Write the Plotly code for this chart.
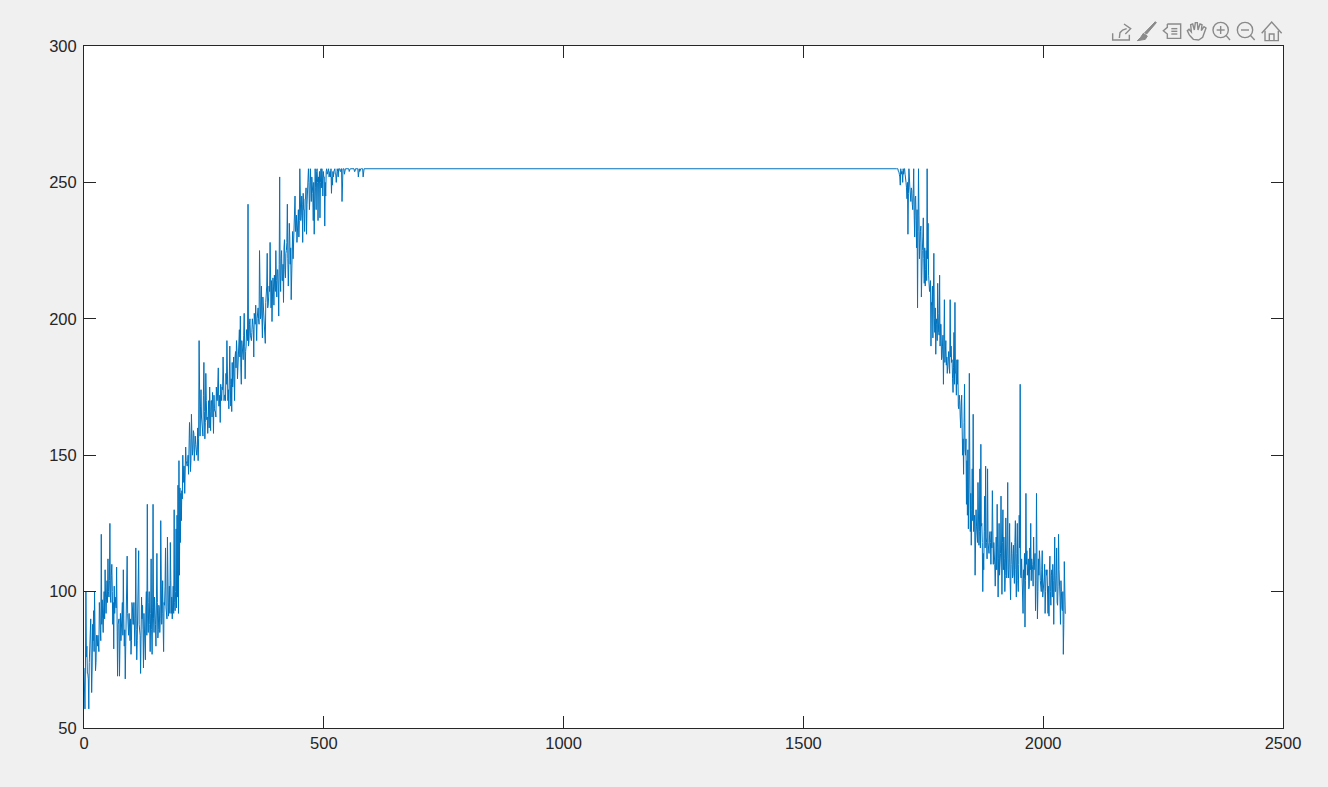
import plotly.graph_objects as go

SAMPLE_STEP = 2
rise_values = [
72,57,100,80,70,57,78,90,63,88,93,100,71,84,80,82,96,86,121,97,85,100,108,92,104,112,98,125,96,110,
88,79,92,95,109,69,90,69,92,88,96,108,80,68,90,113,84,92,82,77,96,88,96,80,116,75,95,115,86,70,
98,95,72,86,75,100,132,85,100,78,112,77,132,85,95,80,114,83,95,85,126,88,104,78,95,116,92,120,91,102,
118,92,90,102,130,93,123,128,139,148,138,136,137,150,146,136,153,146,147,143,162,144,165,150,159,148,157,150,152,148,
192,157,174,160,157,184,156,180,163,158,170,175,159,170,173,158,167,166,175,170,182,168,162,172,175,186,170,172,180,192,
170,167,190,168,166,175,186,170,188,192,178,188,196,201,176,188,185,202,178,190,196,242,192,200,192,195,198,186,198,205,
192,203,200,225,200,212,193,204,200,191,210,224,205,212,228,204,199,215,205,212,225,208,218,201,252,210,225,214,206,229,
215,225,242,212,235,220,207,230,222,228,245,235,228,240,230,255,236,245,228,240,232,244,231,248,255,240,255,243,250,236,
231,255,240,255,236,250,237,255,255,245,252,234,245,255,254,255,253,252,246,249,252,255,253,250,255,252,255,254,255,243,
255,255,255,255,255,255,255,255,255,255,255,255,254,255,255,255,252,255,255,255,255,252,
]
rise_core_values = [
66,72,76,70,68,74,80,76,72,82,78,84,74,80,84,78,86,82,88,90,
94,90,98,102,96,100,104,98,106,100,96,102,98,94,92,88,90,86,82,88,
84,90,86,80,88,92,84,86,90,82,94,88,84,90,86,82,92,88,84,96,
90,86,92,88,94,84,90,96,88,92,86,94,90,98,88,92,96,86,94,90,
98,92,88,96,102,94,90,100,96,92,104,98,94,92,96,100,94,98,92,106,
118,126,134,140,146,142,148,146,150,152,156,148,154,152,158,152,154,150,160,156,
162,168,164,158,172,166,162,170,164,168,160,166,170,164,168,172,166,164,170,174,
168,172,176,170,174,178,172,170,176,180,174,182,176,178,184,178,180,186,182,188,
184,190,186,182,192,186,194,190,188,196,192,190,198,194,192,200,196,202,198,194,
200,204,198,206,202,200,208,204,198,206,212,204,208,210,206,214,208,212,216,210,
214,218,212,220,216,222,214,220,226,218,224,228,222,220,230,226,224,232,228,236,
232,238,234,240,236,244,238,242,246,240,244,248,242,246,250,244,248,252,246,250,
252,248,254,250,252,254,250,248,252,254,252,250,254,253,255,252,254,255,252,254,
254,255,253,255,254,255,255,254,255,255,255,253,255,255,255,255,254,255,255,255,
255,255,254,255,255,255,255,254,255,255,255,255,
]
plateau_x = [584, 1694]
plateau_values = [255, 255]
FALL_START = 1696
fall_values = [
255,254,253,249,253,254,255,255,253,250,244,231,255,248,243,247,240,255,230,245,226,204,255,222,232,208,225,237,213,212,
225,255,235,211,212,190,205,193,224,195,187,200,213,195,216,198,185,190,176,207,190,183,180,186,182,207,190,185,173,195,
206,180,185,185,167,170,160,172,150,143,176,150,132,128,123,180,122,117,145,165,125,106,130,120,140,117,145,154,125,100,
108,135,146,118,145,115,120,118,122,137,110,115,102,120,132,98,125,112,135,99,130,120,100,127,105,140,105,125,97,118,
105,117,103,126,98,125,100,128,176,105,107,92,105,87,136,115,110,101,116,125,112,108,120,110,93,136,90,112,115,104,
100,115,100,105,92,108,108,92,91,113,95,108,110,88,120,100,116,95,121,105,88,100,93,77,111,92,
]
fall_core_values = [
255,254,252,255,254,250,253,255,252,248,250,246,252,244,248,242,246,238,244,236,
240,232,238,228,234,224,230,222,226,218,214,222,216,210,214,206,212,208,200,204,
198,192,202,194,190,198,186,194,188,184,192,186,182,188,180,186,184,178,182,176,
180,172,176,168,172,164,168,160,156,162,152,156,148,152,142,146,136,130,126,122,
128,120,124,118,126,122,116,124,118,114,122,116,120,112,118,114,122,110,116,112,
118,110,114,108,116,112,106,114,110,118,108,112,106,114,116,108,112,104,110,114,
106,112,118,108,114,104,110,116,106,112,100,108,114,104,110,106,112,102,108,104,
110,102,108,114,104,110,100,106,112,102,108,98,104,110,100,106,96,102,108,100,
106,98,104,110,100,106,96,102,108,98,104,94,100,88,96,92,
]
x_ticks = [0, 500, 1000, 1500, 2000, 2500]
y_ticks = [50, 100, 150, 200, 250, 300]

x_values, y_values = [], []
for i, (a, b) in enumerate(zip(rise_values, rise_core_values)):
    x_values += [SAMPLE_STEP * i, SAMPLE_STEP * i + 1]
    y_values += [a, b]
x_values += plateau_x
y_values += plateau_values
for i, (a, b) in enumerate(zip(fall_values, fall_core_values)):
    x_values += [FALL_START + SAMPLE_STEP * i, FALL_START + SAMPLE_STEP * i + 1]
    y_values += [a, b]

W, H = 1328, 787
L, R, T, B = 84, 1283, 46, 728
INK = "#262626"
ICON = "#8a8a8a"

fig = go.Figure(go.Scatter(x=x_values, y=y_values, mode="lines",
                           line=dict(color="#0072BD", width=1), hoverinfo="skip"))

axis = dict(showline=True, linecolor=INK, linewidth=1, mirror="ticks", ticks="inside",
            ticklen=12, tickwidth=1, tickcolor=INK, showgrid=False, zeroline=False,
            tickfont=dict(family="Liberation Sans, Arial, sans-serif", size=16.5, color=INK))
fig.update_xaxes(range=[0, 2500], tickvals=x_ticks, ticktext=[str(v) for v in x_ticks], **axis)
fig.update_yaxes(range=[50, 300], tickvals=y_ticks, ticktext=[str(v) for v in y_ticks],
                 ticklabelstandoff=3, **axis)


def px(zx, zy):
    sx = 1090 + zx / 3
    sy = 10 + zy / 3
    return (sx - L) / (R - L), (B - sy) / (B - T)


def path(points, close=False):
    parts = []
    for k, (a, b) in enumerate(points):
        u, v = px(a, b)
        parts.append(("M" if k == 0 else "L") + f"{u:.5f},{v:.5f}")
    return " ".join(parts) + (" Z" if close else "")


line_icons = [
    [(68, 70), (68, 90), (118, 90), (118, 74)],
    [(88, 84), (90, 68), (98, 60), (110, 56)],
    [(102, 42), (122, 56), (106, 72)],
    [(232, 42), (272, 42), (272, 85), (232, 85), (232, 72), (220, 62), (232, 52), (232, 42)],
    [(244, 56), (262, 56)], [(244, 64), (262, 64)], [(244, 72), (262, 72)],
    [(298, 75), (292, 62), (297, 58), (304, 66), (302, 44), (308, 42), (313, 60), (316, 38),
     (322, 38), (324, 60), (330, 42), (336, 44), (334, 62), (342, 50), (348, 54), (338, 82),
     (326, 90), (310, 88), (298, 75)],
    [(392, 48), (392, 72)], [(380, 60), (404, 60)], [(408, 76), (420, 90)],
    [(453, 60), (477, 60)], [(481, 76), (494, 90)],
    [(515, 70), (545, 36), (575, 70)], [(525, 62), (525, 92), (565, 92), (565, 62)],
    [(538, 92), (538, 72), (552, 72), (552, 92)],
]
shapes = [dict(type="path", xref="paper", yref="paper", path=path(p),
               line=dict(color=ICON, width=1.4)) for p in line_icons]
shapes.append(dict(type="path", xref="paper", yref="paper",
                   path=path([(196, 35), (199, 38), (170, 72), (164, 68)], True),
                   fillcolor=ICON, line=dict(color=ICON, width=1)))
shapes.append(dict(type="path", xref="paper", yref="paper",
                   path=path([(160, 70), (172, 78), (166, 88), (142, 92), (152, 82)], True),
                   fillcolor=ICON, line=dict(color=ICON, width=1)))
for cx in (392, 465):
    x0, y0 = px(cx - 23, 83)
    x1, y1 = px(cx + 23, 37)
    shapes.append(dict(type="circle", xref="paper", yref="paper", x0=x0, y0=y0, x1=x1, y1=y1,
                       line=dict(color=ICON, width=1.4)))

fig.update_layout(width=W, height=H, showlegend=False, paper_bgcolor="#f0f0f0",
                  plot_bgcolor="white", shapes=shapes,
                  margin=dict(l=L, r=W - R, t=T, b=H - B, pad=0))

fig.write_html("out.html", config=dict(displayModeBar=False),
               post_script="document.body.style.margin='0';document.body.style.overflow='hidden';")
